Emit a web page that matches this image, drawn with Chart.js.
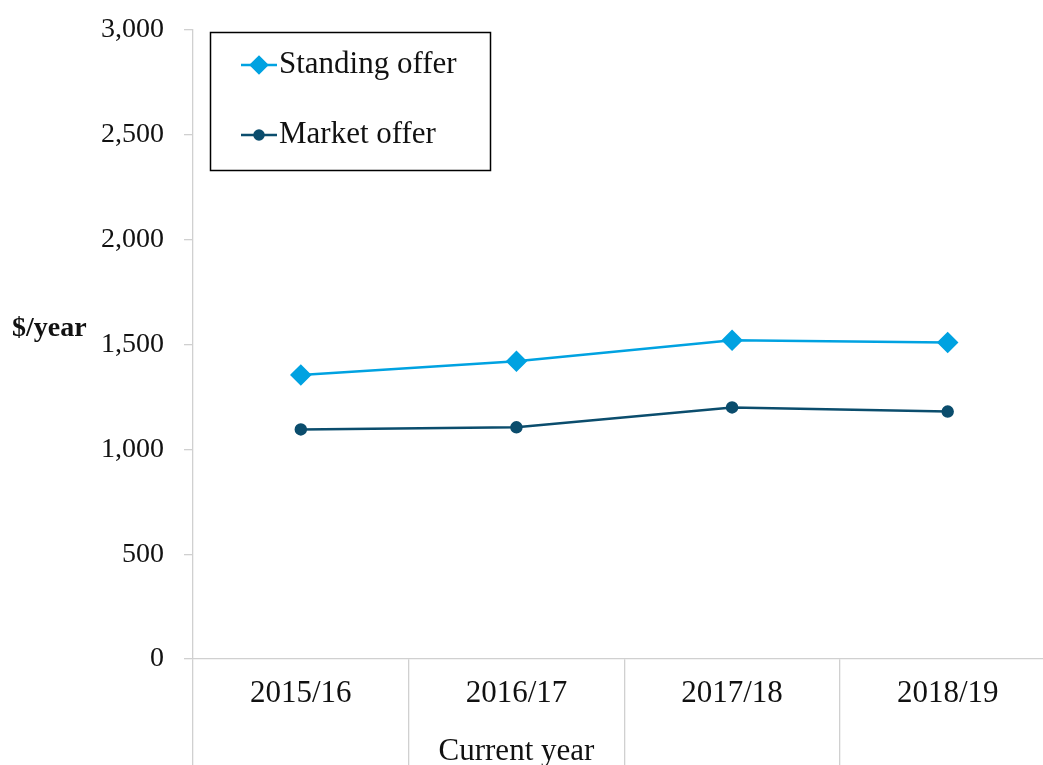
<!DOCTYPE html>
<html>
<head>
<meta charset="utf-8">
<title>Standing vs market offer</title>
<script src="https://cdn.jsdelivr.net/npm/chart.js@4.4.1/dist/chart.umd.min.js"></script>
<style>
  html, body { margin: 0; padding: 0; background: #fff; overflow: hidden; }
  #wrap { width: 1067px; height: 765px; }
</style>
</head>
<body>
<div id="wrap"><canvas id="offerChart"></canvas></div>
<script>
// --- Data ---
const years = ['2015/16', '2016/17', '2017/18', '2018/19'];
const standingOffer = [1355, 1420, 1520, 1510];
const marketOffer = [1095, 1105, 1200, 1180];
const yTicks = [0, 500, 1000, 1500, 2000, 2500, 3000];
const currentYear = '2016/17';
const groupLabel = 'Current year';
const unitLabel = '$/year';

const FONT = '"Liberation Serif", "Times New Roman", serif';
const AXIS_GREY = '#d0d0d0';

// second-level label sits under the current year only
const xLabels = years.map(y => (y === currentYear ? [y, groupLabel] : y));

// Boxed legend in the top-left of the plot
const legendBox = {
  id: 'legendBox',
  afterDraw(chart) {
    const { ctx } = chart;
    ctx.save();
    ctx.strokeStyle = '#000';
    ctx.lineWidth = 1.5;
    ctx.strokeRect(210.5, 32.5, 280, 138);

    chart.data.datasets.forEach((ds, i) => {
      const y = 65 + i * 70;
      ctx.strokeStyle = ds.borderColor;
      ctx.lineWidth = ds.borderWidth;
      ctx.beginPath();
      ctx.moveTo(241, y);
      ctx.lineTo(277, y);
      ctx.stroke();

      ctx.fillStyle = ds.pointBackgroundColor;
      ctx.strokeStyle = ds.pointBackgroundColor;
      Chart.helpers.drawPoint(ctx, {
        pointStyle: ds.pointStyle,
        radius: ds.pointStyle === 'circle' ? 4.5 : 8,
        borderWidth: 1
      }, 259, y);

      ctx.fillStyle = '#111';
      ctx.font = '31px ' + FONT;
      ctx.textAlign = 'left';
      ctx.textBaseline = 'middle';
      ctx.fillText(ds.label, 279, y);
    });
    ctx.restore();
  }
};

// Horizontal unit label left of the value axis
const unitTitle = {
  id: 'unitTitle',
  afterDraw(chart) {
    const { ctx } = chart;
    const y = chart.scales.y.getPixelForValue(1500) - 16;
    ctx.save();
    ctx.fillStyle = '#111';
    ctx.font = 'bold 28px ' + FONT;
    ctx.textAlign = 'left';
    ctx.textBaseline = 'middle';
    ctx.fillText(unitLabel, 12, y);
    ctx.restore();
  }
};

const ctx = document.getElementById('offerChart').getContext('2d');

new Chart(ctx, {
  type: 'line',
  data: {
    labels: xLabels,
    datasets: [
      {
        label: 'Standing offer',
        data: standingOffer,
        borderColor: '#00a2e1',
        backgroundColor: '#00a2e1',
        pointBackgroundColor: '#00a2e1',
        pointBorderColor: '#00a2e1',
        borderWidth: 2.5,
        pointStyle: 'rectRot',
        pointRadius: 9,
        pointHoverRadius: 9,
        tension: 0
      },
      {
        label: 'Market offer',
        data: marketOffer,
        borderColor: '#0b4d6d',
        backgroundColor: '#0b4d6d',
        pointBackgroundColor: '#0b4d6d',
        pointBorderColor: '#0b4d6d',
        borderWidth: 2.5,
        pointStyle: 'circle',
        pointRadius: 5,
        pointHoverRadius: 5,
        tension: 0
      }
    ]
  },
  options: {
    responsive: true,
    maintainAspectRatio: false,
    animation: false,
    layout: { padding: { top: 30, right: 4, left: 0, bottom: 0 } },
    plugins: {
      legend: { display: false },
      tooltip: { enabled: false }
    },
    scales: {
      x: {
        offset: true,
        grid: {
          drawOnChartArea: false,
          offset: true,
          tickLength: 106,
          color: AXIS_GREY,
          lineWidth: 1.3
        },
        border: { color: AXIS_GREY, width: 1.3 },
        ticks: {
          padding: -100,
          maxRotation: 0,
          autoSkip: false,
          color: '#111',
          font: { family: FONT, size: 31, lineHeight: 58 / 31 }
        },
        afterFit(scale) {
          scale.height = 106;
          scale.paddingTop = 0;
          scale.paddingBottom = 0;
        }
      },
      y: {
        min: 0,
        max: 3000,
        afterBuildTicks(scale) {
          scale.ticks = yTicks.map(v => ({ value: v }));
        },
        grid: {
          drawOnChartArea: false,
          tickLength: 9,
          color: AXIS_GREY,
          lineWidth: 1.3
        },
        border: { color: AXIS_GREY, width: 1.3 },
        ticks: {
          padding: 20,
          color: '#111',
          font: { family: FONT, size: 28 },
          callback: v => v.toLocaleString('en-US')
        },
        afterFit(scale) {
          scale.width = 193;
          scale.paddingTop = 0;
          scale.paddingBottom = 0;
        }
      }
    }
  },
  plugins: [legendBox, unitTitle]
});
</script>
</body>
</html>
